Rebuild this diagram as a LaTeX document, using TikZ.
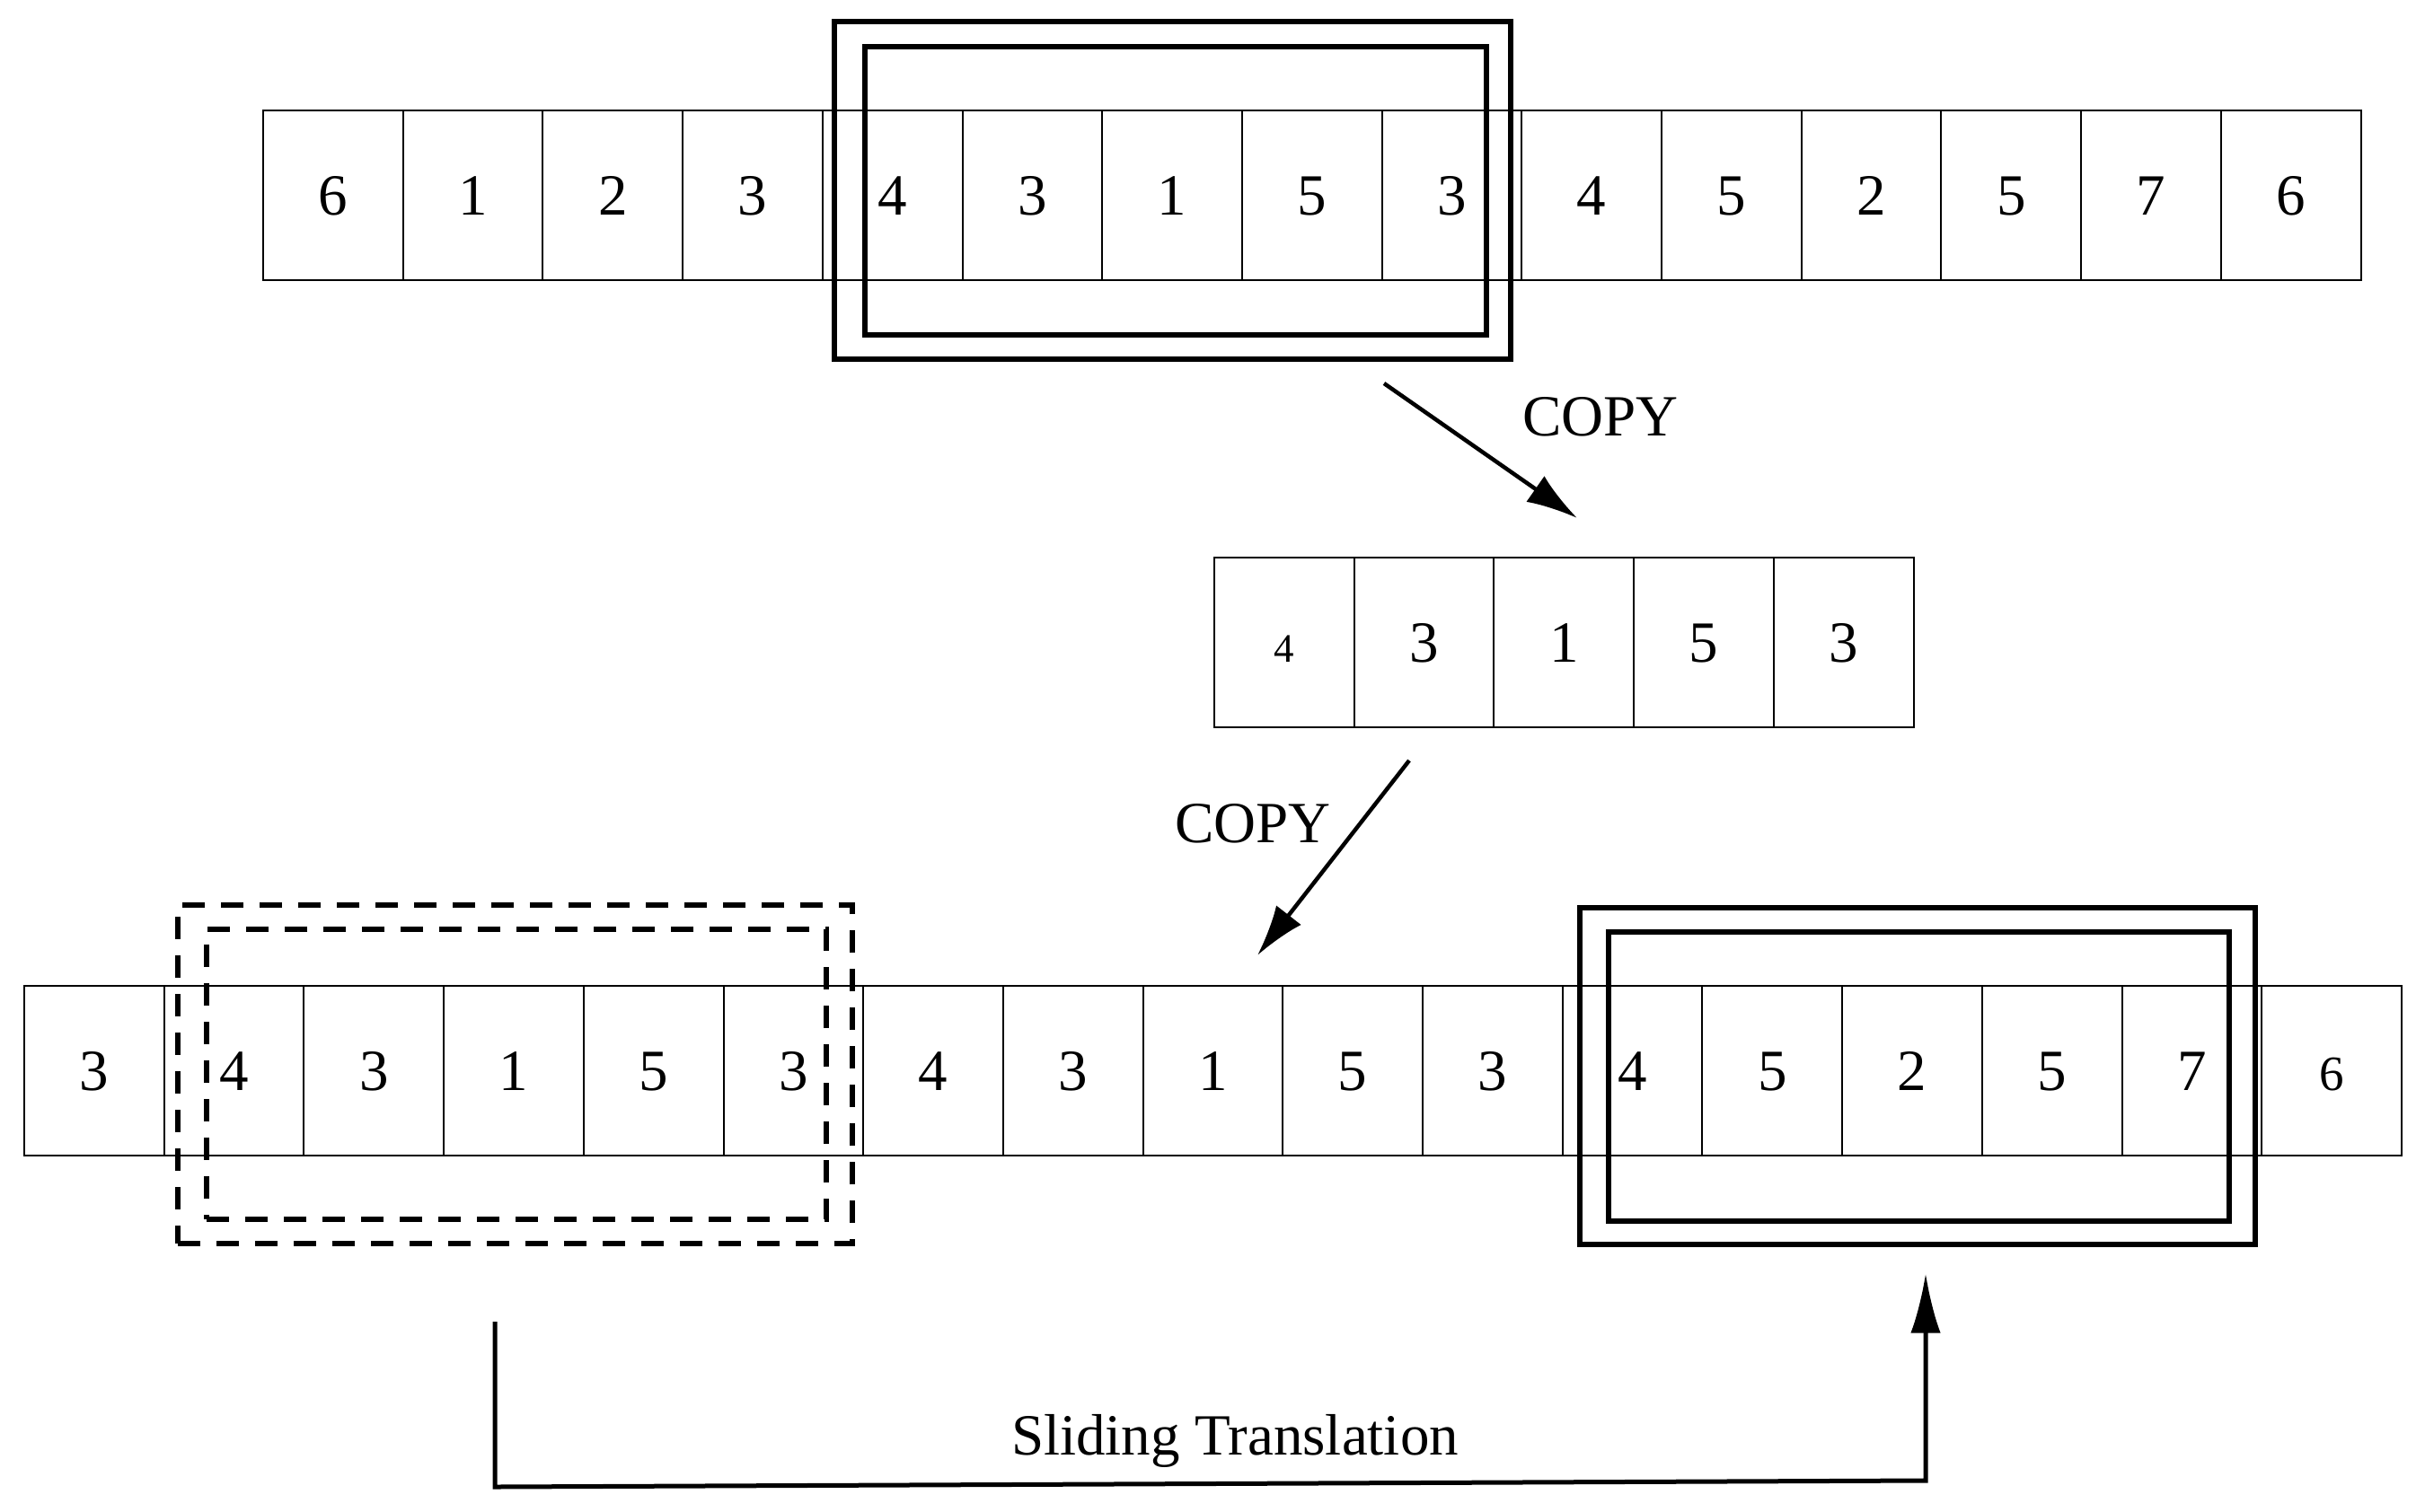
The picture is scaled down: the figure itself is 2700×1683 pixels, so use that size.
\documentclass[tikz,border=0pt]{standalone}
\usepackage{fontspec}
\setmainfont{Liberation Serif}
\usetikzlibrary{arrows.meta}
\begin{document}
\begin{tikzpicture}[x=0.3pt,y=-0.3pt,
  cell/.style={draw=black, line width=0.6pt, minimum width=46.71pt, minimum height=56.7pt,
    inner sep=0pt, outer sep=0pt, text height=13.3pt, text depth=0pt,
    font=\fontsize{19.5}{20}\selectfont},
  frame/.style={draw=black, line width=1.6pt, inner sep=0pt, outer sep=0pt},
  dframe/.style={frame, dash pattern=on 7.5pt off 5.4pt},
  arr/.style={line width=1.35pt, -{Latex[length=17pt,width=10.5pt]}},
  slarr/.style={line width=1.5pt, -{Latex[length=20pt,width=10pt]}},
  lbl/.style={font=\fontsize{19.5}{20}\selectfont, inner sep=0pt}]

\useasboundingbox (0,0) rectangle (2700,1683);

% top row
\foreach \v [count=\i] in {6,1,2,3,4,3,1,5,3,4,5,2,5,7,6}
  \node[cell] (t\i) at ({293+(\i-0.5)*155.7},217.5) {\v};

% middle row
\node[cell] (m1) at ({1352+0.5*155.7},715.5) {\fontsize{13.5}{14}\selectfont 4};
\foreach \v [count=\i from 2] in {3,1,5,3}
  \node[cell] (m\i) at ({1352+(\i-0.5)*155.7},715.5) {\v};

% bottom row
\foreach \v [count=\i] in {3,4,3,1,5,3,4,3,1,5,3,4,5,2,5,7}
  \node[cell] (b\i) at ({27+(\i-0.5)*155.7},1192.5) {\v};
\node[cell] (b17) at ({27+16.5*155.7},1192.5) {\fontsize{16.5}{17}\selectfont 6};

% frames, top
\node[frame, minimum width=225.9pt, minimum height=112.8pt] (fto) at (1305.5,212) {};
\node[frame, minimum width=207.6pt, minimum height=96.3pt] (fti) at (1309,212.5) {};

% frames, bottom dashed
\node[dframe, minimum width=225.3pt, minimum height=113.1pt] (fdo) at (573.5,1196.5) {};
\node[dframe, minimum width=207pt, minimum height=96.9pt] (fdi) at (575,1196.5) {};

% frames, bottom solid
\node[frame, minimum width=225.6pt, minimum height=112.5pt] (fso) at (2135,1198.5) {};
\node[frame, minimum width=207.3pt, minimum height=96.6pt] (fsi) at (2136.5,1199) {};

% copy arrows
\coordinate (c1s) at (1541,427);
\coordinate (c1e) at (1756,577);
\coordinate (c2s) at (1569,847);
\coordinate (c2e) at (1400,1064);
\draw[arr] (c1s) -- (c1e);
\draw[arr] (c2s) -- (c2e);
\node[lbl, anchor=base] (copyA) at (1782,485) {COPY};
\node[lbl, anchor=base] (copyB) at (1395,938) {COPY};

% sliding translation
\coordinate (slA) at (551,1472);
\coordinate (slB) at (551,1656);
\coordinate (slC) at (2144,1649);
\coordinate (slD) at (2144,1418);
\draw[slarr] (slA) -- (slB) -- (slC) -- (slD);
\node[lbl, anchor=base] (slide) at (1375,1620) {Sliding Translation};
\end{tikzpicture}
\end{document}
